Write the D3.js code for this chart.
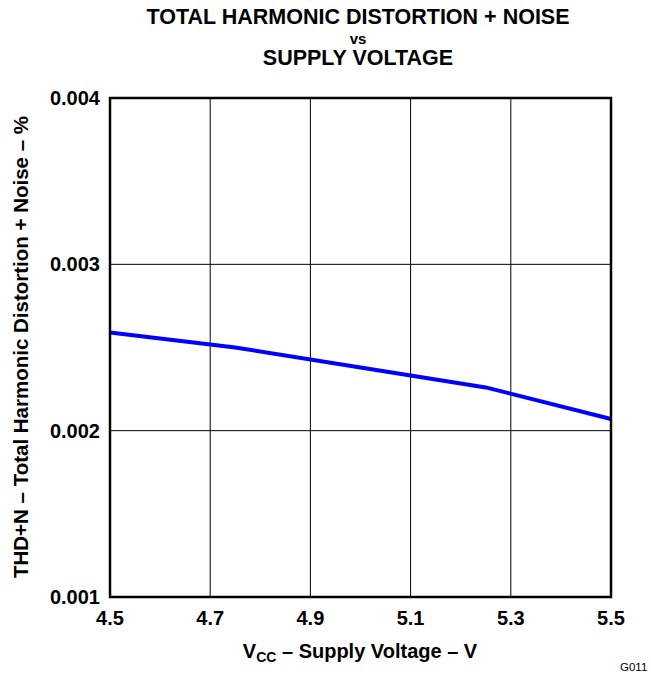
<!DOCTYPE html>
<html><head><meta charset="utf-8">
<script src="https://cdn.jsdelivr.net/npm/d3@7"></script>
<style>body{margin:0;background:#fff}svg{display:block;font-family:Arial,"Liberation Sans",sans-serif}</style>
</head><body><svg id="c" width="651" height="674"></svg>
<script>
const voltage = [4.5, 4.75, 5.0, 5.25, 5.5];
const thdn = [0.00259, 0.00250, 0.00238, 0.00226, 0.00207];
const xTicks = [4.5, 4.7, 4.9, 5.1, 5.3, 5.5];
const yTicks = [0.001, 0.002, 0.003, 0.004];
const titleLines = ["TOTAL HARMONIC DISTORTION + NOISE", "vs", "SUPPLY VOLTAGE"];

const svg = d3.select("#c");
const L = 110, R = 611, T = 98, B = 597;
const x = d3.scaleLinear().domain([4.5, 5.5]).range([L, R]);
const y = d3.scaleLinear().domain([0.001, 0.004]).range([B, T]);

// grid
svg.append("g").selectAll("line").data(xTicks.slice(1, -1)).join("line")
  .attr("x1", d => x(d)).attr("x2", d => x(d)).attr("y1", T).attr("y2", B)
  .attr("stroke", "#000").attr("stroke-width", 1);
svg.append("g").selectAll("line").data(yTicks.slice(1, -1)).join("line")
  .attr("y1", d => y(d)).attr("y2", d => y(d)).attr("x1", L).attr("x2", R)
  .attr("stroke", "#000").attr("stroke-width", 1);

// data line
svg.append("path").datum(voltage.map((v, i) => [v, thdn[i]]))
  .attr("d", d3.line().x(d => x(d[0])).y(d => y(d[1])))
  .attr("fill", "none").attr("stroke", "#0000ff").attr("stroke-width", 4);

// frame
svg.append("rect").attr("x", L).attr("y", T).attr("width", R - L).attr("height", B - T)
  .attr("fill", "none").attr("stroke", "#000").attr("stroke-width", 2.5);

// tick labels
svg.append("g").selectAll("text").data(yTicks).join("text")
  .attr("x", 100).attr("y", d => y(d) + 7).attr("text-anchor", "end")
  .attr("font-size", 20).attr("font-weight", "bold").text(d => d3.format(".3f")(d));
svg.append("g").selectAll("text").data(xTicks).join("text")
  .attr("x", d => x(d)).attr("y", 625).attr("text-anchor", "middle")
  .attr("font-size", 20).attr("font-weight", "bold").text(d => d3.format(".1f")(d));

// title
const tfs = [21.5, 15, 21.5], tys = [24, 44, 65];
titleLines.forEach((t, i) => svg.append("text").attr("x", 358).attr("y", tys[i])
  .attr("text-anchor", "middle").attr("font-size", tfs[i]).attr("font-weight", "bold").text(t));

// x axis title
const xt = svg.append("text").attr("x", 360).attr("y", 658).attr("text-anchor", "middle")
  .attr("font-size", 20).attr("font-weight", "bold");
xt.append("tspan").text("V");
xt.append("tspan").attr("font-size", 14).attr("dy", 4).text("CC");
xt.append("tspan").attr("dy", -4).text(" – Supply Voltage – V");

// y axis title
svg.append("text").attr("transform", "translate(28,347) rotate(-90)").attr("text-anchor", "middle")
  .attr("font-size", 20.5).attr("font-weight", "bold").text("THD+N – Total Harmonic Distortion + Noise – %");

svg.append("text").attr("x", 620).attr("y", 671).attr("font-size", 11.5).text("G011");
</script></body></html>
